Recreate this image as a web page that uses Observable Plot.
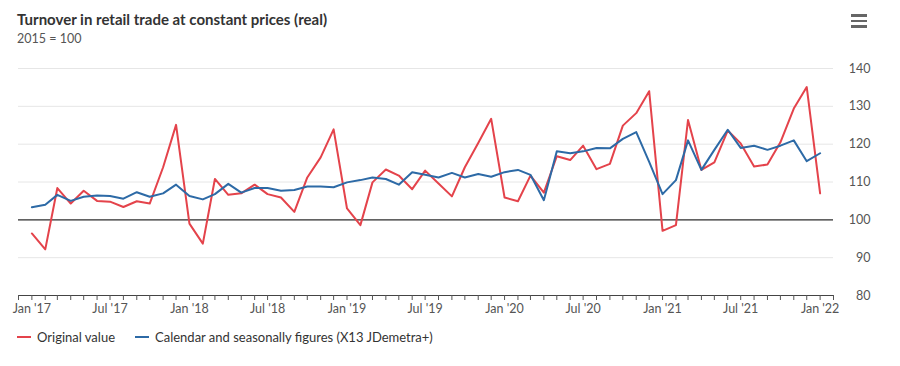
<!DOCTYPE html>
<html>
<head>
<meta charset="utf-8">
<script src="https://cdn.jsdelivr.net/npm/d3@7"></script>
<script src="https://cdn.jsdelivr.net/npm/@observablehq/plot@0.6"></script>
<style>
  html, body { margin: 0; padding: 0; background: #fff; }
  body { width: 900px; height: 366px; position: relative; overflow: hidden; font-family: "Source Sans Pro", Lato, "Noto Sans", sans-serif; }
  #chart { position: absolute; left: 0; top: 0; }
  #title { position: absolute; left: 17px; top: 10px; font-size: 15px; font-weight: bold; color: #333; white-space: nowrap; }
  #subtitle { position: absolute; left: 17px; top: 31px; font-size: 12.5px; color: #555; white-space: nowrap; }
  #menu { position: absolute; left: 851px; top: 14px; width: 16px; }
  #menu div { height: 2.5px; background: #666; margin-bottom: 3px; }
  #legend { position: absolute; left: 17px; top: 329px; font-size: 13px; color: #333; white-space: nowrap; display: flex; align-items: center; }
  .sw { display: inline-block; width: 14px; height: 2px; margin-right: 6px; }
  .item { display: flex; align-items: center; margin-right: 20px; }
</style>
</head>
<body>
<div id="chart"></div>
<div id="title">Turnover in retail trade at constant prices (real)</div>
<div id="subtitle">2015 = 100</div>
<div id="menu"><div></div><div></div><div></div></div>
<div id="legend"></div>
<script>
// Months Jan 2017 .. Jan 2022
const startYear = 2017;
const months = d3.range(61).map(i => new Date(Date.UTC(startYear, i, 1)));

const original = [
  96.4, 92.2, 108.4, 104.3, 107.7, 105.0, 104.8, 103.4, 104.9, 104.3, 113.9, 125.1,
  99.0, 93.7, 110.8, 106.6, 107.0, 109.3, 106.8, 105.9, 102.1, 111.2, 116.5, 123.9,
  103.0, 98.6, 109.9, 113.3, 111.7, 108.1, 113.0, 109.6, 106.2, 113.9, 120.3, 126.7,
  105.9, 104.9, 111.7, 107.2, 116.8, 115.8, 119.6, 113.4, 114.8, 124.9, 128.2, 134.0,
  97.1, 98.6, 126.4, 113.2, 115.2, 123.6, 120.2, 114.1, 114.6, 120.5, 129.4, 135.1,
  107.0
];
const adjusted = [
  103.3, 104.0, 106.6, 105.0, 106.1, 106.4, 106.3, 105.6, 107.3, 106.1, 107.0, 109.3,
  106.3, 105.4, 106.8, 109.5, 107.2, 108.4, 108.4, 107.7, 107.9, 108.8, 108.8, 108.6,
  109.9, 110.5, 111.2, 110.8, 109.3, 112.6, 111.9, 111.2, 112.4, 111.2, 112.1, 111.4,
  112.6, 113.2, 111.9, 105.2, 118.1, 117.6, 118.1, 119.0, 118.9, 121.4, 123.2, 115.3,
  106.8, 110.5, 121.0, 113.2, 118.5, 123.8, 119.0, 119.6, 118.5, 119.6, 121.0, 115.5,
  117.6
];
const yTicks = [80, 90, 100, 110, 120, 130, 140];
const seriesNames = ["Original value", "Calendar and seasonally figures (X13 JDemetra+)"];
const seriesColors = ["#e4434b", "#2d6aa6"];
const monthNames = ["Jan","Feb","Mar","Apr","May","Jun","Jul","Aug","Sep","Oct","Nov","Dec"];

const rows = [];
months.forEach((d, i) => {
  rows.push({date: d, value: original[i], series: seriesNames[0]});
  rows.push({date: d, value: adjusted[i], series: seriesNames[1]});
});

const xTicks = d3.utcMonth.range(new Date(Date.UTC(2016, 11, 1)), new Date(Date.UTC(2022, 2, 1)));
const fmt = d => {
  const m = d.getUTCMonth();
  if (m !== 0 && m !== 6) return "";
  return monthNames[m] + " '" + String(d.getUTCFullYear()).slice(2);
};

const plot = Plot.plot({
  width: 900,
  height: 366,
  marginTop: 68,
  marginBottom: 71,
  marginLeft: 18,
  marginRight: 67,
  style: { fontFamily: "'Source Sans Pro', Lato, 'Noto Sans', sans-serif", fontSize: "12px", background: "transparent" },
  x: { type: "utc", domain: [new Date(Date.UTC(2016, 11, 1)), new Date(Date.UTC(2022, 1, 1))] },
  y: { domain: [80, 140] },
  color: { domain: seriesNames, range: seriesColors },
  marks: [
    Plot.gridY(yTicks, { stroke: "#e6e6e6", strokeOpacity: 1 }),
    Plot.ruleY([100], { stroke: "#333", strokeWidth: 1.2 }),
    Plot.ruleY([80], { stroke: "#444", strokeWidth: 1 }),
    Plot.axisY(yTicks, { anchor: "right", tickSize: 0, tickPadding: 37, textAnchor: "end", label: null, fill: "#555", fontSize: 12.5 }),
    Plot.axisX(xTicks, { tickSize: 5, tickFormat: fmt, label: null, fill: "#555", stroke: "#555", tickPadding: 4, fontSize: 12.5 }),
    Plot.line(rows, { x: "date", y: "value", z: "series", stroke: "series", strokeWidth: 2, curve: "linear" })
  ]
});
document.getElementById("chart").appendChild(plot);

const legend = document.getElementById("legend");
seriesNames.forEach((name, i) => {
  const item = document.createElement("span");
  item.className = "item";
  const sw = document.createElement("span");
  sw.className = "sw";
  sw.style.background = seriesColors[i];
  item.appendChild(sw);
  item.appendChild(document.createTextNode(name));
  legend.appendChild(item);
});
</script>
</body>
</html>
